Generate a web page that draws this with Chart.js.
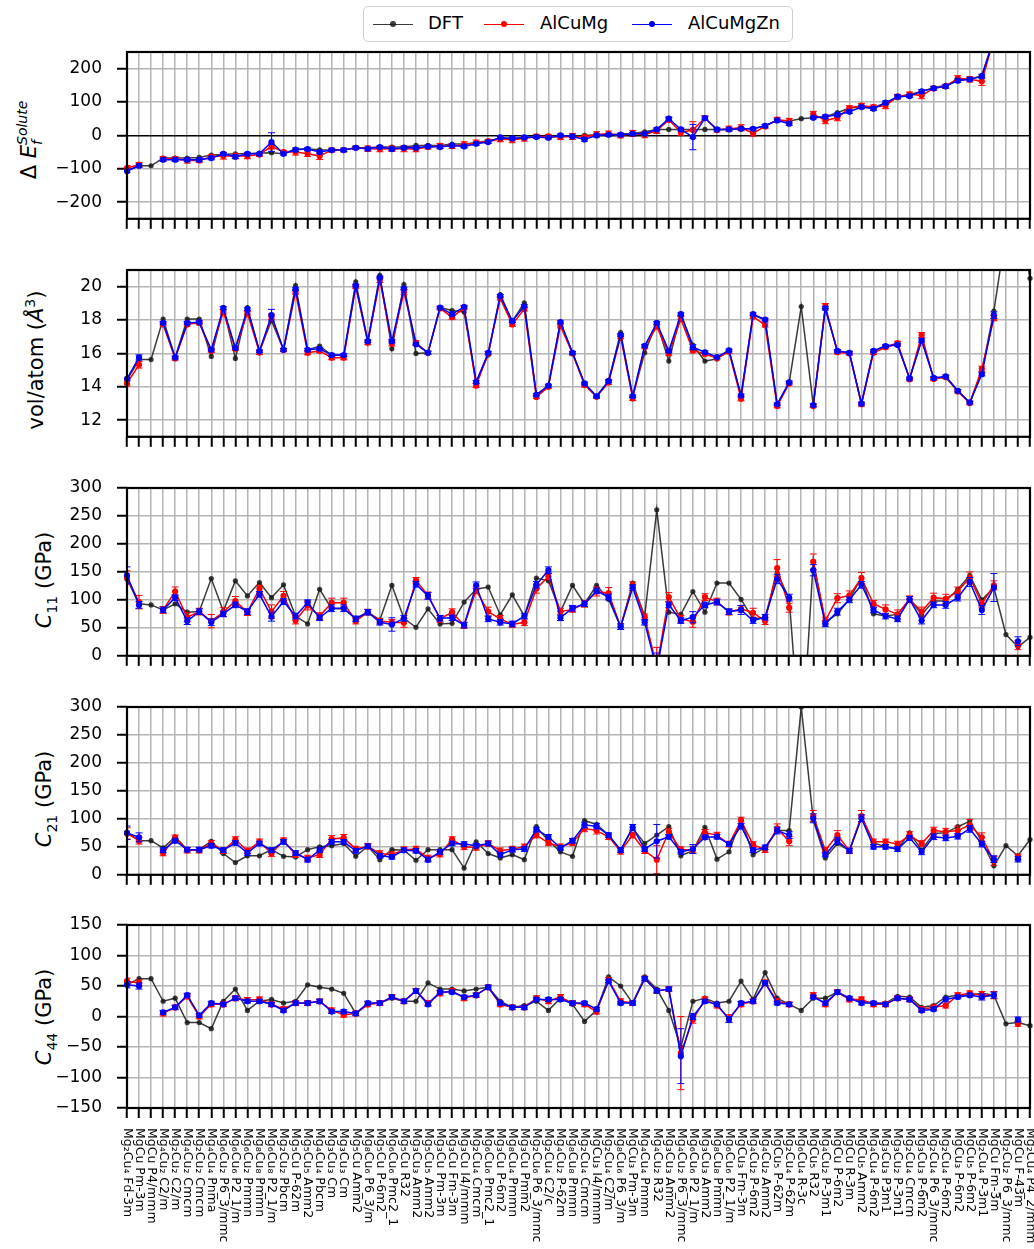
<!DOCTYPE html>
<html lang="en">
<head>
<meta charset="UTF-8">
<title>Solute formation energy, volume and elastic constants</title>
<script src="https://cdn.jsdelivr.net/npm/chart.js"></script>
<style>
  body { margin: 0; background: #fff; font-family: "DejaVu Sans", sans-serif; }
  #wrap { position: relative; width: 1034px; height: 1249px; overflow: hidden; }
  canvas { position: absolute; left: 0; }
  .ylab { position: absolute; white-space: nowrap; font-size: 21px; color: #000;
          transform: translate(-50%, -50%) rotate(-90deg); }
  .ylab sub, .ylab sup { font-size: 14px; }
  .ss { display: inline-block; vertical-align: middle; line-height: 1.05; font-size: 14px; font-style: italic; }
  .legend { position: absolute; left: 363px; top: 6px; width: 430px; height: 36px;
            border: 1.5px solid #d0d0d0; border-radius: 5px; box-sizing: border-box; background: #fff; }
  .lg-line { position: absolute; top: 17px; height: 0; border-top: 1.5px solid; }
  .lg-dot { position: absolute; top: 14px; width: 6px; height: 6px; border-radius: 50%; }
  .lg-text { position: absolute; top: 5px; font-size: 18px; }
</style>
</head>
<body>
<div id="wrap">
  <div class="ylab" style="left:30px;top:140px;">&Delta; <i>E</i><span class="ss">Solute<br>f</span></div>
  <div class="ylab" style="left:35px;top:360px;">vol/atom (<i>&Aring;</i><sup>3</sup>)</div>
  <div class="ylab" style="left:46px;top:580px;"><i>C</i><sub>11</sub> (GPa)</div>
  <div class="ylab" style="left:46px;top:799px;"><i>C</i><sub>21</sub> (GPa)</div>
  <div class="ylab" style="left:46px;top:1017px;"><i>C</i><sub>44</sub> (GPa)</div>
  <div class="legend" id="legend"></div>
</div>
<script>
// structures along the shared x axis
const categories = [
  "Mg₂Cu₄ Fd-3m", "MgCu Pm-3m", "MgCu P4/mmm", "Mg₄Cu₂ C2/m", "Mg₂Cu₂ C2/m", "Mg₄Cu₂ Cmcm",
  "Mg₂Cu₂ Cmcm", "Mg₄Cu₄ Pnma", "Mg₆Cu₂ P6_3/mmc", "Mg₆Cu₆ P2_1/m", "Mg₆Cu₂ Pmmn", "Mg₈Cu₈ Pmmn",
  "Mg₆Cu₈ P2_1/m", "Mg₂Cu₂ Pbcm", "Mg₅Cu P-62m", "Mg₅Cu₅ Amm2", "Mg₄Cu₄ Pbcm", "Mg₃Cu₃ Cm",
  "Mg₃Cu₃ Cm", "Mg₅Cu Amm2", "Mg₈Cu₆ P6_3/m", "Mg₅Cu P-6m2", "Mg₆Cu₆ Pmc2_1", "Mg₅Cu R32",
  "Mg₃Cu₃ Amm2", "Mg₅Cu₅ Amm2", "Mg₃Cu Pm-3m", "Mg₃Cu Fm-3m", "Mg₃Cu I4/mmm", "Mg₂Cu₄ Cmcm",
  "Mg₆Cu₆ Pmc2_1", "Mg₃Cu P-6m2", "Mg₈Cu₄ Pmmn", "Mg₃Cu Pmm2", "Mg₂Cu₆ P6_3/mmc", "Mg₂Cu₄ C2/c",
  "Mg₄Cu₂ P-62m", "Mg₈Cu₈ Pmmn", "Mg₂Cu₄ Cmcm", "MgCu₃ I4/mmm", "Mg₂Cu₄ C2/m", "Mg₈Cu₆ P6_3/m",
  "MgCu₃ Pm-3m", "Mg₄Cu₄ Pmmn", "Mg₄Cu₂ R32", "Mg₃Cu₃ Amm2", "Mg₄Cu₂ P6_3/mmc", "Mg₆Cu₆ P2_1/m",
  "Mg₃Cu₃ Amm2", "Mg₈Cu₈ Pmmn", "Mg₆Cu₆ P2_1/m", "MgCu₃ Fm-3m", "Mg₄Cu₂ P-6m2", "Mg₄Cu₂ Amm2",
  "MgCu₅ P-62m", "Mg₂Cu₄ P-62m", "Mg₆Cu₄ R-3c", "MgCu₅ R32", "Mg₄Cu₂ P-3m1", "MgCu P-6m2",
  "MgCu R-3m", "MgCu₅ Amm2", "Mg₄Cu₄ P-6m2", "Mg₃Cu₃ P3m1", "Mg₃Cu₂ P-3m1", "Mg₂Cu₄ Cmcm",
  "Mg₃Cu₃ P-6m2", "Mg₂Cu₄ P6_3/mmc", "Mg₂Cu₄ P-6m2", "MgCu₃ P-6m2", "MgCu₅ P-6m2", "Mg₂Cu₄ P-3m1",
  "MgCu Fm-3m", "Mg₂Cu₂ P6_3/mmc", "MgCu F-43m", "Mg₂Cu₄ P4_2/mnm"
];

const seriesNames = ["DFT", "AlCuMg", "AlCuMgZn"];

// solute formation energy
const dftE = [-105,-91,-91,-68,-68,-68,-66,-59,-57,-55,-55,-53,-52,-55,-41,-41,-43,-44,-44,-37,-37,-35,-35,-35,-30,-30,-30,-26,-26,-22,-16,-9,-9,-6,-5,-5,-2,-1,0,2,3,4,6,11,18,18,18,18,18,18,18,19,20,29,45,43,50,53,56,68,82,86,82,98,113,123,132,143,150,166,168,180,290,350,420,480];
const cumgE = [-98,-88,null,-70,-70,-75,-75,-64,-62,-62,-62,-57,-33,-50,-50,-55,-62,-44,-44,-37,-40,-41,-40,-40,-41,-35,-32,-32,-28,-22,-18,-11,-13,-9,-3,-3,-5,-3,-5,3,5,0,6,2,14,47,9,16,52,16,20,23,7,27,47,43,null,64,45,53,82,89,85,89,116,123,120,141,147,171,168,162,290,null,430,null];
const znE = [-107,-91,null,-73,-73,-73,-73,-68,-55,-64,-55,-55,-20,-55,-43,-41,-50,-44,-44,-37,-40,-35,-41,-37,-37,-33,-35,-30,-33,-25,-20,-6,-9,-6,-5,-7,0,-3,-12,0,2,2,5,5,18,50,18,-5,52,18,18,20,20,29,45,35,null,53,56,62,71,85,80,98,116,118,132,141,147,164,168,177,290,null,430,null];
const errCumgE = [8,7,0,6,6,8,6,6,9,8,8,6,8,5,9,8,10,6,6,5,8,8,8,9,8,6,8,7,9,8,6,8,9,8,6,6,7,9,6,8,8,7,9,9,8,6,9,25,7,6,8,9,9,6,7,8,0,8,10,9,7,7,6,9,7,7,10,6,6,8,8,12,8,0,8,0];
const errZnE = [5,5,0,5,5,5,5,5,4,5,4,4,28,4,5,4,5,4,4,4,4,4,4,4,4,4,4,4,4,4,4,4,4,4,4,4,4,4,5,4,4,4,4,4,4,5,4,38,4,4,4,4,4,4,4,5,0,4,5,5,5,5,5,5,5,5,5,5,5,5,5,6,6,0,6,0];

// volume per atom
const dftVol = [14.4,15.63,15.63,18.06,15.76,18.06,18.06,15.82,18.75,15.7,18.75,16.13,17.96,16.22,20.07,16.2,16.44,15.9,15.87,20.29,16.73,20.68,16.28,20.13,16.0,16.04,18.75,18.57,18.48,14.29,15.9,19.52,17.93,19.03,13.52,14.07,17.87,16.04,14.2,13.43,14.35,17.25,13.43,16.04,17.83,15.54,18.35,16.5,15.54,15.67,16.18,13.47,18.3,18.02,12.95,14.26,18.81,12.9,18.7,16.15,16.04,12.99,16.15,16.44,16.51,14.5,16.8,14.53,14.55,13.76,13.06,14.9,18.53,23.3,24.5,20.5];
const cumgVol = [14.2,15.32,null,17.74,15.7,17.74,17.83,16.15,18.48,16.28,18.42,16.05,18.2,16.2,19.67,16.04,16.15,15.74,15.74,20.0,16.64,20.4,16.59,19.67,16.64,16.04,18.7,18.17,18.72,14.07,16.0,19.3,17.74,18.66,13.39,14.0,17.65,16.0,14.1,13.4,14.26,17.0,13.3,16.4,17.6,16.0,18.06,16.18,15.96,15.72,16.1,13.28,18.2,17.7,12.84,14.2,null,12.85,18.84,16.07,16.0,12.95,16.04,16.37,16.62,14.45,17.1,14.47,14.58,13.72,13.02,15.08,18.11,null,null,null];
const znVol = [14.48,15.76,null,17.83,15.76,17.83,17.87,16.22,18.72,16.33,18.66,16.13,18.29,16.22,19.85,16.22,16.28,15.9,15.9,20.07,16.73,20.55,16.73,19.89,16.55,16.04,18.75,18.35,18.79,14.29,16.04,19.45,17.93,18.84,13.52,14.07,17.87,16.04,14.2,13.43,14.35,17.1,13.43,16.46,17.83,16.15,18.35,16.37,16.07,15.78,16.18,13.47,18.35,18.02,12.95,14.26,null,12.9,18.7,16.15,16.04,12.99,16.15,16.44,16.51,14.5,16.77,14.53,14.62,13.76,13.06,14.75,18.29,null,null,null];
const errCumgVol = [0.15,0.2,0,0.1,0.1,0.1,0.12,0.1,0.12,0.1,0.1,0.12,0.15,0.1,0.12,0.12,0.1,0.12,0.12,0.1,0.12,0.15,0.15,0.15,0.12,0.1,0.1,0.12,0.1,0.12,0.1,0.1,0.12,0.12,0.1,0.1,0.12,0.1,0.12,0.1,0.12,0.12,0.12,0.12,0.1,0.12,0.15,0.15,0.1,0.1,0.1,0.12,0.1,0.12,0.1,0.1,0,0.1,0.15,0.1,0.1,0.12,0.1,0.1,0.1,0.1,0.15,0.1,0.1,0.1,0.1,0.15,0.15,0,0,0];
const errZnVol = [0.08,0.15,0,0.08,0.08,0.08,0.08,0.08,0.08,0.08,0.08,0.08,0.35,0.08,0.08,0.08,0.08,0.08,0.08,0.08,0.08,0.08,0.1,0.08,0.08,0.08,0.08,0.08,0.08,0.08,0.08,0.08,0.08,0.08,0.08,0.08,0.08,0.08,0.08,0.08,0.08,0.08,0.08,0.08,0.08,0.08,0.08,0.15,0.08,0.08,0.08,0.08,0.08,0.08,0.08,0.08,0,0.08,0.1,0.08,0.08,0.08,0.08,0.08,0.08,0.08,0.1,0.08,0.08,0.08,0.08,0.1,0.2,0,0,0];

// C11
const dftC11 = [137,93,91,82,93,78,79,138,80,134,107,131,104,127,71,57,119,84,84,67,78,64,126,67,51,84,57,58,96,119,123,73,109,71,139,134,79,126,93,126,101,52,130,71,261,78,74,115,78,130,130,101,66,69,148,102,-180,169,60,75,101,140,75,71,74,101,74,98,98,119,144,100,122,38,16,33];
const cumgC11 = [140,96,null,82,115,69,79,62,78,98,78,120,79,107,63,90,71,95,95,62,78,62,60,59,135,108,66,78,54,117,79,66,56,60,120,142,79,83,93,115,112,52,126,69,-20,105,66,61,105,97,78,84,77,62,157,86,null,168,63,103,108,139,93,83,74,101,79,104,102,115,140,93,126,null,19,null];
const znC11 = [144,91,null,82,104,62,79,60,75,91,79,110,70,97,71,95,68,85,85,66,78,60,56,67,128,107,67,68,55,126,66,60,57,71,127,153,68,85,93,116,105,52,122,60,-25,91,63,69,91,96,79,82,63,69,137,104,null,153,57,79,100,127,82,71,66,101,63,91,91,104,132,82,122,null,26,null];
const errCumgC11 = [12,12,0,6,8,8,6,12,8,8,6,6,12,8,6,8,6,8,8,5,5,5,5,8,5,6,6,6,5,6,8,6,5,6,8,6,6,5,6,8,10,5,6,6,35,8,6,10,6,6,5,6,8,6,15,8,0,14,6,8,8,10,6,8,8,6,8,8,8,8,10,6,8,0,8,0];
const errZnC11 = [15,6,0,5,5,6,5,6,5,5,5,5,8,5,5,5,5,6,6,5,5,5,12,5,5,6,5,5,5,6,5,5,5,5,6,6,5,5,5,5,5,5,5,5,30,5,5,10,5,5,5,8,5,5,8,6,0,10,5,6,5,6,5,5,5,5,6,5,6,6,8,8,25,0,8,0];

// C21
const dftC21 = [76,61,61,48,68,45,45,60,38,22,34,34,45,33,32,45,50,52,56,33,51,27,45,44,26,45,45,45,12,59,38,30,36,27,86,61,41,33,97,90,71,44,83,56,71,86,34,43,85,28,41,99,36,49,79,79,300,98,30,56,43,104,57,50,46,75,44,74,75,86,96,60,16,52,34,63];
const cumgC21 = [74,61,null,39,66,44,44,56,43,63,43,59,38,61,36,30,36,64,66,46,51,38,36,45,46,30,37,63,50,49,56,43,46,50,71,57,50,57,83,79,68,42,71,43,27,77,45,45,75,71,55,97,54,45,83,60,null,105,44,71,43,105,59,59,55,71,56,79,77,79,89,67,25,null,32,null];
const znC21 = [75,67,null,44,61,45,45,52,44,57,39,56,44,59,39,27,44,59,59,43,51,34,32,44,43,27,41,56,55,52,56,36,45,46,81,68,48,61,89,87,71,44,85,46,60,68,41,46,67,68,55,87,44,49,79,71,null,101,36,61,43,101,50,50,46,66,41,68,66,69,82,55,28,null,28,null];
const errCumgC21 = [10,6,0,5,5,5,5,5,5,5,5,5,5,5,5,5,5,6,6,5,5,5,5,5,5,5,5,5,5,5,5,5,5,5,5,5,5,5,6,6,5,5,5,5,25,6,5,6,6,5,5,6,5,5,8,8,0,10,5,8,5,10,5,5,5,6,5,6,6,8,10,8,8,0,5,0];
const errZnC21 = [12,8,0,4,4,4,4,4,4,4,4,4,4,4,4,4,4,4,4,4,4,4,4,4,4,4,4,4,4,4,4,4,4,4,4,4,4,4,5,5,4,4,5,4,30,4,4,8,4,4,4,5,4,4,6,6,0,8,4,6,4,6,4,4,4,4,5,5,5,5,6,5,6,0,5,0];

// C44
const dftC44 = [52,62,62,25,30,-10,-10,-20,25,45,10,25,28,22,25,52,48,45,38,5,20,22,30,25,25,55,45,45,42,45,48,25,15,18,25,10,30,20,-8,10,65,50,22,65,45,10,-50,25,30,22,25,58,28,72,30,20,10,30,30,40,30,25,22,22,33,32,15,18,32,35,35,38,35,-12,-10,-15];
const cumgC44 = [58,55,null,5,15,33,0,20,20,30,27,28,20,12,22,22,25,10,3,5,20,22,32,25,42,22,38,42,30,35,48,20,15,15,30,25,32,22,20,8,60,25,22,62,42,45,-60,-5,28,18,-3,20,25,55,25,20,null,35,20,40,28,28,20,20,30,28,12,15,18,35,38,35,35,null,-12,null];
const znC44 = [52,50,null,7,15,35,2,22,20,30,25,25,20,10,22,22,25,8,8,5,22,22,32,25,42,20,40,40,32,35,48,22,15,15,28,28,28,22,22,12,58,22,22,62,42,45,-65,0,25,20,-5,22,25,55,22,20,null,32,22,40,30,22,22,20,30,28,10,12,28,32,35,32,35,null,-5,null];
const errCumgC44 = [5,5,0,4,4,4,4,4,4,4,4,4,4,4,4,4,4,4,4,4,4,4,4,4,4,4,4,4,4,4,4,4,4,4,4,4,4,4,4,4,4,4,4,4,4,4,60,6,4,4,6,4,4,5,4,4,0,4,4,4,4,4,4,4,4,4,4,4,4,4,4,6,6,0,4,0];
const errZnC44 = [5,5,0,3,3,3,3,3,3,3,3,3,3,3,3,3,3,3,3,3,3,3,3,3,3,3,3,3,3,3,3,3,3,3,3,3,3,3,3,3,3,3,3,3,3,3,45,5,3,3,5,3,3,4,3,3,0,3,3,3,3,3,3,3,3,3,3,3,3,3,3,5,5,0,4,0];

// y tick labels per panel
const ticksE = [-200, -100, 0, 100, 200];
const ticksVol = [12, 14, 16, 18, 20];
const ticksC = [0, 50, 100, 150, 200, 250, 300];
const ticksC44 = [-150, -100, -50, 0, 50, 100, 150];

const colors = ["rgba(25,25,25,0.85)", "#ff0000", "#0000ff"];

// legend
const legendEl = document.getElementById("legend");
const lgLayout = [[9, 64], [120, 176], [268, 324]];
seriesNames.forEach((name, k) => {
  const [lx, tx] = lgLayout[k];
  legendEl.insertAdjacentHTML("beforeend",
    `<div class="lg-line" style="left:${lx}px;width:40px;border-color:${colors[k]}"></div>` +
    `<div class="lg-dot" style="left:${lx + 17}px;background:${colors[k]}"></div>` +
    `<div class="lg-text" style="left:${tx}px">${name}</div>`);
});

const fmt = v => String(v).replace("-", "\u2212");

// errorbars drawn right after their own line
const errorBars = {
  id: "errorBars",
  afterDatasetDraw(chart, args) {
    const ds = chart.data.datasets[args.index];
    if (!ds.errors) return;
    const { ctx, chartArea: a } = chart;
    const ys = chart.scales.y;
    ctx.save();
    ctx.beginPath();
    ctx.rect(a.left, a.top, a.right - a.left, a.bottom - a.top);
    ctx.clip();
    ctx.strokeStyle = ds.borderColor;
    ctx.lineWidth = 1;
    args.meta.data.forEach((pt, i) => {
      const v = ds.data[i], e = ds.errors[i];
      if (v == null || !e) return;
      const x = pt.x;
      const y0 = ys.getPixelForValue(v - e), y1 = ys.getPixelForValue(v + e);
      ctx.beginPath();
      ctx.moveTo(x, y0); ctx.lineTo(x, y1);
      ctx.moveTo(x - 3.5, y0); ctx.lineTo(x + 3.5, y0);
      ctx.moveTo(x - 3.5, y1); ctx.lineTo(x + 3.5, y1);
      ctx.stroke();
    });
    ctx.restore();
  }
};

const frame = {
  id: "frame",
  afterDatasetsDraw(chart) {
    const { ctx, chartArea: a } = chart;
    ctx.save();
    ctx.strokeStyle = "#000";
    ctx.lineWidth = 2.2;
    ctx.strokeRect(a.left, a.top, a.right - a.left, a.bottom - a.top);
    ctx.restore();
  }
};

// rotated structure names under the last panel
const xLabels = {
  id: "xLabels",
  afterDraw(chart) {
    const { ctx, chartArea: a } = chart;
    const xs = chart.scales.x;
    ctx.save();
    ctx.font = "12.5px 'DejaVu Sans'";
    ctx.fillStyle = "#000";
    ctx.textAlign = "left";
    ctx.textBaseline = "middle";
    categories.forEach((lab, i) => {
      ctx.save();
      ctx.translate(xs.getPixelForValue(i), a.bottom + 20);
      ctx.rotate(Math.PI / 2);
      ctx.fillText(lab, 0, 0);
      ctx.restore();
    });
    ctx.restore();
  }
};

const panels = [
  { top: 52, bottom: 234, min: -250, max: 250, ticks: ticksE, zero: true,
    data: [dftE, cumgE, znE], err: [null, errCumgE, errZnE] },
  { top: 270, bottom: 452, min: 11, max: 21, ticks: ticksVol,
    data: [dftVol, cumgVol, znVol], err: [null, errCumgVol, errZnVol] },
  { top: 488, bottom: 671, min: 0, max: 300, ticks: ticksC,
    data: [dftC11, cumgC11, znC11], err: [null, errCumgC11, errZnC11] },
  { top: 707, bottom: 890, min: 0, max: 300, ticks: ticksC,
    data: [dftC21, cumgC21, znC21], err: [null, errCumgC21, errZnC21] },
  { top: 925, bottom: 1108, min: -150, max: 150, ticks: ticksC44,
    data: [dftC44, cumgC44, znC44], err: [null, errCumgC44, errZnC44] }
];

const wrap = document.getElementById("wrap");
panels.forEach((p, n) => {
  const last = n === panels.length - 1;
  const padTop = 30, axisH = 10;
  const padBottom = last ? 1249 - p.bottom - axisH : 0;
  const cv = document.createElement("canvas");
  cv.width = 1034;
  cv.height = padTop + (p.bottom - p.top) + axisH + padBottom;
  cv.style.top = (p.top - padTop) + "px";
  wrap.appendChild(cv);

  const datasets = p.data.map((d, k) => ({
    label: seriesNames[k],
    data: d,
    errors: p.err[k],
    borderColor: colors[k],
    backgroundColor: colors[k],
    pointBackgroundColor: colors[k],
    pointBorderWidth: 0,
    pointRadius: k === 0 ? 2.6 : 3.1,
    borderWidth: 1.5,
    order: 3 - k
  }));

  new Chart(cv, {
    type: "line",
    data: { labels: categories, datasets },
    options: {
      responsive: false,
      animation: false,
      devicePixelRatio: 1,
      events: [],
      layout: { padding: { top: padTop, right: 4, left: 0, bottom: padBottom } },
      plugins: { legend: { display: false }, tooltip: { enabled: false } },
      scales: {
        x: {
          type: "category",
          offset: false,
          border: { display: false },
          grid: { color: "#b4b4b4", lineWidth: 1.5, tickColor: "#000", tickWidth: 2, tickLength: 10 },
          ticks: { display: false, autoSkip: false }
        },
        y: {
          min: p.min,
          max: p.max,
          afterBuildTicks: s => { s.ticks = p.ticks.map(v => ({ value: v })); },
          afterFit: s => { s.width = 127; },
          border: { display: false },
          grid: {
            color: c => (p.zero && c.tick && c.tick.value === 0) ? "#000" : "#b4b4b4",
            lineWidth: 1.5, tickColor: "#000", tickWidth: 2, tickLength: 10
          },
          ticks: {
            color: "#000",
            padding: 15,
            font: { family: "DejaVu Sans", size: 17 },
            callback: v => fmt(v)
          }
        }
      }
    },
    plugins: last ? [errorBars, frame, xLabels] : [errorBars, frame]
  });
});
</script>
</body>
</html>
